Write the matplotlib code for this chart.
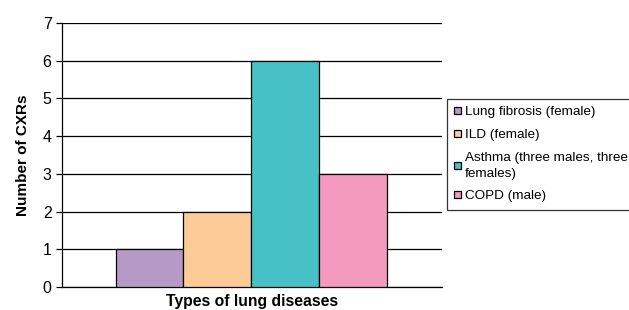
import matplotlib.pyplot as plt

plt.rcParams['font.family'] = ['Liberation Sans', 'DejaVu Sans']

# data
labels = ['Lung fibrosis (female)', 'ILD (female)',
          'Asthma (three males, three\nfemales)', 'COPD (male)']
values = [1, 2, 6, 3]
colors = ['#b799c8', '#fdcb98', '#48c1c6', '#f499c0']

fig = plt.figure(figsize=(6.29, 3.10), dpi=100)
ax = fig.add_axes([62 / 629, 23 / 310, 380 / 629, 264 / 310])

for i, (lab, v, c) in enumerate(zip(labels, values, colors)):
    ax.bar(i, v, width=1.0, color=c, edgecolor='black', linewidth=0.9,
           label=lab, zorder=3)

ax.set_xlim(-1.29, 4.31)
ax.set_ylim(0, 7)
ax.set_yticks(range(0, 8))
ax.set_xticks([])
ax.yaxis.grid(True, color='black', linewidth=0.9, zorder=0)
for s in ['top', 'right']:
    ax.spines[s].set_visible(False)
ax.spines['left'].set_linewidth(0.9)
ax.spines['bottom'].set_linewidth(0.9)
ax.tick_params(axis='y', length=4, width=0.9, labelsize=11.5, pad=3.5)

ax.set_ylabel('Number of CXRs', fontsize=11, fontweight='bold', labelpad=9)
ax.set_xlabel('Types of lung diseases', fontsize=11.3, fontweight='bold', labelpad=5)

leg = fig.legend(loc='upper left', bbox_to_anchor=(447 / 629, 1 - 99 / 310),
                 fontsize=9.7, frameon=True, fancybox=False, edgecolor='black',
                 handlelength=0.5, handleheight=0.5, handletextpad=0.25,
                 borderpad=0.55, labelspacing=0.8, borderaxespad=0)
leg.get_frame().set_linewidth(0.9)
for t in leg.get_texts():
    t.set_linespacing(1.4)

fig.savefig('out.png', dpi=100)
